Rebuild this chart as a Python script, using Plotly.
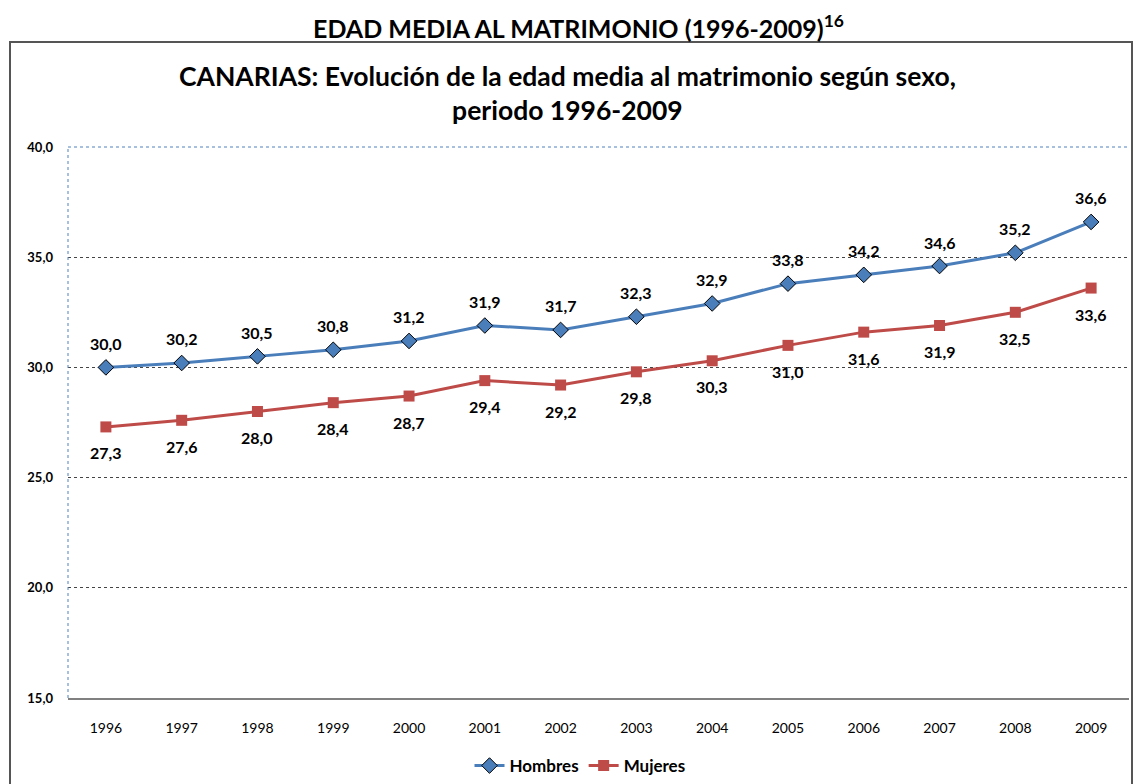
import plotly.graph_objects as go

years = ["1996", "1997", "1998", "1999", "2000", "2001", "2002", "2003", "2004",
         "2005", "2006", "2007", "2008", "2009"]
hombres = [30.0, 30.2, 30.5, 30.8, 31.2, 31.9, 31.7, 32.3, 32.9, 33.8, 34.2, 34.6, 35.2, 36.6]
mujeres = [27.3, 27.6, 28.0, 28.4, 28.7, 29.4, 29.2, 29.8, 30.3, 31.0, 31.6, 31.9, 32.5, 33.6]
y_ticks = [15, 20, 25, 30, 35, 40]

FONT = "Lato"
W, H = 1135, 784
L, R, T, B = 68, 6, 147, 86
pw, ph = W - L - R, H - T - B

def px(x):
    return (x - L) / pw

def py(y):
    return (H - B - y) / ph

def fmt(v):
    return f"{v:.1f}".replace(".", ",")

fig = go.Figure()
fig.add_trace(go.Scatter(
    x=years, y=hombres, name="<b>Hombres</b>", mode="lines+markers",
    line=dict(color="#4A7EBB", width=3),
    marker=dict(symbol="diamond", size=12, color="#4A7EBB", line=dict(color="black", width=1)),
))
fig.add_trace(go.Scatter(
    x=years, y=mujeres, name="<b>Mujeres</b>", mode="lines+markers",
    line=dict(color="#BE4B48", width=3),
    marker=dict(symbol="square", size=11, color="#BE4B48"),
))

label_font = dict(family=FONT, size=16, color="black", weight="bold")
annotations = []
for i, v in enumerate(hombres):
    annotations.append(dict(x=i, y=v, xref="x", yref="y", text="<b>" + fmt(v) + "</b>",
                            showarrow=False, yshift=24, xanchor="center", yanchor="middle",
                            font=label_font))
for i, v in enumerate(mujeres):
    annotations.append(dict(x=i, y=v, xref="x", yref="y", text="<b>" + fmt(v) + "</b>",
                            showarrow=False, yshift=-26, xanchor="center", yanchor="middle",
                            font=label_font))

shapes = [
    # outer frame
    dict(type="rect", xref="paper", yref="paper", x0=px(10), x1=px(1132), y0=py(800), y1=py(42),
         line=dict(color="#555555", width=2), layer="below"),
    # plot area top and left (dotted blue)
    dict(type="line", xref="paper", yref="paper", x0=0, x1=1, y0=1, y1=1,
         line=dict(color="#4F81BD", width=1, dash="dot")),
    dict(type="line", xref="paper", yref="paper", x0=0, x1=0, y0=0, y1=1,
         line=dict(color="#4F81BD", width=1, dash="dot")),
]

annotations += [
    dict(text="<b>EDAD MEDIA AL MATRIMONIO (1996-2009)<sup>16</sup></b>", xref="paper", yref="paper",
         x=px(578), y=py(26), xanchor="center", yanchor="middle", showarrow=False,
         font=dict(family=FONT, size=25, color="black")),
    dict(text="<b>CANARIAS: Evolución de la edad media al matrimonio según sexo,<br>periodo 1996-2009</b>",
         xref="paper", yref="paper", x=px(567), y=py(93), xanchor="center", yanchor="middle",
         showarrow=False, font=dict(family=FONT, size=26.5, color="black")),
]

fig.update_layout(
    width=W, height=H, margin=dict(l=L, r=R, t=T, b=B, autoexpand=False),
    paper_bgcolor="white", plot_bgcolor="white",
    font=dict(family=FONT, color="black"),
    separators=",.",
    showlegend=True,
    legend=dict(orientation="h", x=px(580), y=py(766), xanchor="center", yanchor="middle",
                font=dict(family=FONT, size=17, color="black"),
                itemwidth=30, tracegroupgap=0, bgcolor="rgba(0,0,0,0)"),
    xaxis=dict(type="category", showgrid=False, showline=True, linecolor="#808080", linewidth=2,
               ticks="", tickfont=dict(family=FONT, size=14, color="black"), ticklabelstandoff=16,
               range=[-0.5, 13.5], zeroline=False),
    yaxis=dict(range=[15, 40], tickvals=y_ticks, tickformat=".1f", showgrid=True,
               gridcolor="#444444", griddash="dot", gridwidth=1, showline=False, zeroline=False,
               ticks="", tickfont=dict(family=FONT, size=13, color="black", weight="bold"),
               ticklabelstandoff=14),
    shapes=shapes, annotations=annotations,
)

fig.write_html("out.html", config={"displayModeBar": False},
               post_script="document.body.style.margin='0';")
